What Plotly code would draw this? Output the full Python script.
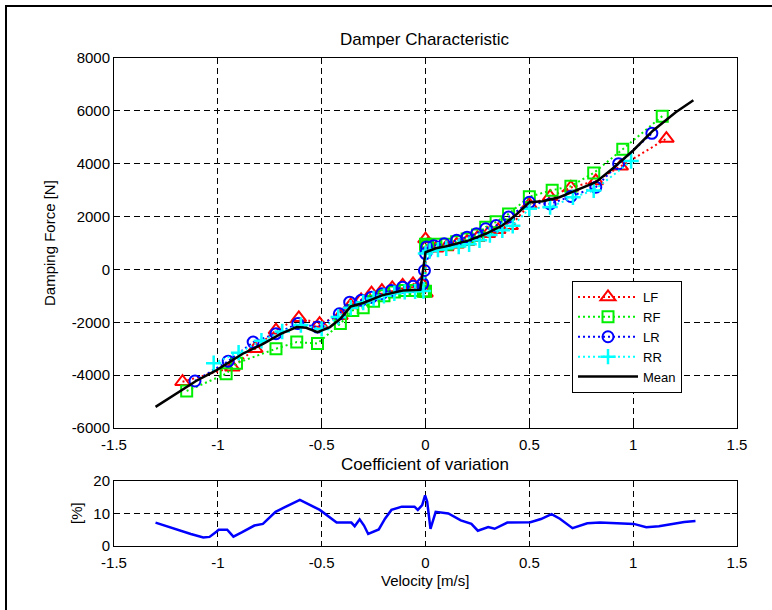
import plotly.graph_objects as go

# ---------------- data ----------------
LF_v = [-1.17, -0.93, -0.82, -0.72, -0.61, -0.51, -0.41, -0.36, -0.31, -0.26, -0.21, -0.16, -0.11, -0.06, -0.02,
        0.0, 0.0, 0.01, 0.05, 0.10, 0.15, 0.20, 0.25, 0.30, 0.35, 0.41, 0.50, 0.60, 0.70, 0.82, 0.94, 1.16]
LF_f = [-4250, -3700, -3000, -2300, -1830, -2050, -1750, -1350, -1150, -900, -800, -700, -600, -550, -520,
        -900, 1150, 950, 800, 850, 950, 1050, 1200, 1350, 1500, 1650, 2450, 2750, 3100, 3350, 3900, 4950]

RF_v = [-1.15, -0.96, -0.91, -0.72, -0.62, -0.52, -0.41, -0.35, -0.30, -0.25, -0.20, -0.15, -0.10, -0.05, -0.01,
        0.0, 0.0, 0.01, 0.05, 0.10, 0.15, 0.20, 0.25, 0.29, 0.34, 0.40, 0.50, 0.61, 0.70, 0.81, 0.95, 1.14]
RF_f = [-4600, -3950, -3550, -3000, -2750, -2800, -2050, -1550, -1450, -1200, -1000, -850, -800, -800, -830,
        -830, 950, 900, 950, 950, 1050, 1150, 1300, 1600, 1800, 2100, 2750, 3000, 3150, 3650, 4550, 5800]

LR_v = [-1.11, -0.95, -0.83, -0.72, -0.615, -0.52, -0.415, -0.365, -0.31, -0.26, -0.21, -0.165, -0.11, -0.06, -0.013,
        -0.005, 0.0, 0.005, 0.04, 0.09, 0.15, 0.20, 0.245, 0.29, 0.34, 0.40, 0.50, 0.60, 0.70, 0.82, 0.93, 1.09]
LR_f = [-4220, -3470, -2750, -2430, -2050, -2180, -1680, -1240, -1170, -1050, -920, -800, -670, -640, -540,
        -40, 600, 850, 900, 970, 1100, 1220, 1350, 1540, 1660, 1980, 2540, 2480, 2760, 3110, 4000, 5150]

RR_v = [-1.02, -0.90, -0.79, -0.69, -0.60, -0.50, -0.42, -0.36, -0.30, -0.25, -0.20, -0.15, -0.10, -0.05, -0.01,
        0.0, 0.02, 0.06, 0.10, 0.16, 0.21, 0.26, 0.31, 0.37, 0.42, 0.50, 0.60, 0.71, 0.81, 0.99]
RR_f = [-3550, -3150, -2700, -2350, -2100, -2250, -1800, -1450, -1250, -1100, -1000, -900, -850, -830, -820,
        600, 700, 750, 800, 870, 950, 1100, 1300, 1480, 1650, 2300, 2360, 2730, 2990, 4100]

mean_v = [-1.30, -1.20, -1.105, -1.008, -0.88, -0.78, -0.695, -0.62, -0.575, -0.52, -0.46, -0.41, -0.36, -0.30,
          -0.21, -0.11, -0.025, 0.0, 0.05, 0.10, 0.15, 0.21, 0.29, 0.37, 0.44, 0.50, 0.565, 0.645, 0.725, 0.82,
          0.90, 1.0, 1.095, 1.205, 1.29]
mean_f = [-5200, -4700, -4220, -3820, -3190, -2810, -2430, -2180, -2210, -2370, -2180, -1870, -1400, -1270,
          -980, -800, -770, 650, 800, 880, 980, 1100, 1350, 1660, 2100, 2540, 2580, 2730, 2990, 3300,
          3810, 4500, 5250, 5950, 6400]

cov_v = [-1.30, -1.21, -1.13, -1.07, -1.04, -1.007, -0.996, -0.955, -0.925, -0.885, -0.824, -0.783, -0.722,
         -0.682, -0.605, -0.509, -0.428, -0.357, -0.341, -0.317, -0.296, -0.276, -0.225, -0.195, -0.164,
         -0.114, -0.053, -0.037, -0.016, -0.002, 0.008, 0.024, 0.049, 0.11, 0.17, 0.221, 0.252, 0.302,
         0.333, 0.394, 0.505, 0.556, 0.607, 0.647, 0.708, 0.779, 0.84, 1.003, 1.063, 1.124, 1.185, 1.246, 1.30]
cov_p = [7.2, 5.3, 3.7, 2.6, 2.8, 4.4, 5.0, 5.0, 2.9, 4.2, 6.3, 6.8, 10.5,
         11.8, 14.2, 11.1, 7.2, 7.2, 6.1, 8.2, 6.3, 3.7, 5.1, 8.4, 11.1,
         12.1, 12.1, 11.1, 12.6, 15.6, 13.7, 5.3, 10.5, 10.0, 7.9, 6.8, 4.7, 5.8,
         5.3, 7.2, 7.3, 8.3, 9.8, 8.4, 5.5, 7.0, 7.2, 6.8, 5.8, 6.1, 6.8, 7.4, 7.7]

x_ticks = [-1.5, -1, -0.5, 0, 0.5, 1, 1.5]
x_ticktext = ["-1.5", "-1", "-0.5", "0", "0.5", "1", "1.5"]
y1_ticks = [-6000, -4000, -2000, 0, 2000, 4000, 6000, 8000]
y1_ticktext = ["-6000", "-4000", "-2000", "0", "2000", "4000", "6000", "8000"]
y2_ticks = [0, 10, 20]
y2_ticktext = ["0", "10", "20"]

# ---------------- figure ----------------
FONT = "Liberation Sans, Arial, Helvetica, sans-serif"
W, H = 772, 610

fig = go.Figure()
dot = "2px,3px"
fig.add_trace(go.Scatter(x=LF_v, y=LF_f, name="LF", mode="lines+markers",
                         line=dict(color="#ff0000", width=2, dash=dot),
                         marker=dict(symbol="triangle-up-open", size=13, color="#ff0000", line=dict(width=2)),
                         xaxis="x", yaxis="y"))
fig.add_trace(go.Scatter(x=RF_v, y=RF_f, name="RF", mode="lines+markers",
                         line=dict(color="#00ee00", width=2, dash=dot),
                         marker=dict(symbol="square-open", size=11, color="#00ee00", line=dict(width=2)),
                         xaxis="x", yaxis="y"))
fig.add_trace(go.Scatter(x=LR_v, y=LR_f, name="LR", mode="lines+markers",
                         line=dict(color="#0000ff", width=2, dash=dot),
                         marker=dict(symbol="circle-open", size=11, color="#0000ff", line=dict(width=2)),
                         xaxis="x", yaxis="y"))
fig.add_trace(go.Scatter(x=RR_v, y=RR_f, name="RR", mode="lines+markers",
                         line=dict(color="#00ffff", width=2, dash=dot),
                         marker=dict(symbol="cross-thin-open", size=11, color="#00ffff", line=dict(width=2.5, color="#00ffff")),
                         xaxis="x", yaxis="y"))
fig.add_trace(go.Scatter(x=mean_v, y=mean_f, name="Mean", mode="lines",
                         line=dict(color="#000000", width=2.5),
                         xaxis="x", yaxis="y"))
fig.add_trace(go.Scatter(x=cov_v, y=cov_p, name="CoV", mode="lines", showlegend=False,
                         line=dict(color="#0000ff", width=2.5),
                         xaxis="x2", yaxis="y2"))

x0, x1 = 114 / W, 737 / W
y_main = [1 - 428 / H, 1 - 58 / H]
y_cov = [1 - 546 / H, 1 - 481 / H]

axis_common = dict(showline=True, linecolor="black", linewidth=1, mirror="ticks",
                   ticks="inside", ticklen=5, tickcolor="black",
                   showgrid=True, gridcolor="black", gridwidth=1, griddash="6px,4px",
                   zeroline=False, tickfont=dict(family=FONT, size=15, color="black"))

fig.update_layout(
    width=W, height=H,
    margin=dict(l=0, r=0, t=0, b=0, autoexpand=False),
    paper_bgcolor="white", plot_bgcolor="white",
    font=dict(family=FONT, size=15, color="black"),
    xaxis=dict(domain=[x0, x1], range=[-1.5, 1.5], tickvals=x_ticks, ticktext=x_ticktext,
               anchor="y", ticklabelstandoff=3, **axis_common),
    yaxis=dict(domain=y_main, range=[-6000, 8000], tickvals=y1_ticks, ticktext=y1_ticktext,
               anchor="x", **axis_common),
    xaxis2=dict(domain=[x0, x1], range=[-1.5, 1.5], tickvals=x_ticks, ticktext=x_ticktext,
                anchor="y2", ticklabelstandoff=3, **axis_common),
    yaxis2=dict(domain=y_cov, range=[0, 20], tickvals=y2_ticks, ticktext=y2_ticktext,
                anchor="x2", **axis_common),
    legend=dict(x=572 / W, y=1 - 281 / H, xanchor="left", yanchor="top",
                bordercolor="black", borderwidth=1, bgcolor="white",
                font=dict(family=FONT, size=13, color="black"), itemwidth=60,
                tracegroupgap=0),
    showlegend=True,
    annotations=[
        dict(text="Damper Characteristic", x=(x0 + x1) / 2, y=1 - 40 / H, xref="paper", yref="paper",
             showarrow=False, font=dict(family=FONT, size=17), xanchor="center", yanchor="middle"),
        dict(text="Damping Force [N]", x=50 / W, y=1 - 243 / H, xref="paper", yref="paper",
             showarrow=False, textangle=-90, font=dict(family=FONT, size=15), xanchor="center", yanchor="middle"),
        dict(text="Coefficient of variation", x=(x0 + x1) / 2, y=1 - 464 / H, xref="paper", yref="paper",
             showarrow=False, font=dict(family=FONT, size=17), xanchor="center", yanchor="middle"),
        dict(text="[%]", x=76 / W, y=1 - 513 / H, xref="paper", yref="paper",
             showarrow=False, textangle=-90, font=dict(family=FONT, size=15), xanchor="center", yanchor="middle"),
        dict(text="Velocity [m/s]", x=(x0 + x1) / 2, y=1 - 580 / H, xref="paper", yref="paper",
             showarrow=False, font=dict(family=FONT, size=15), xanchor="center", yanchor="middle"),
    ],
    shapes=[
        dict(type="path", xref="paper", yref="paper",
             path=f"M {6 / W} 0 L {6 / W} {1 - 6 / H} L 1 {1 - 6 / H}",
             line=dict(color="black", width=2)),
    ],
)

fig.write_html("out.html", post_script="document.body.style.margin='0';document.body.style.overflow='hidden';")
